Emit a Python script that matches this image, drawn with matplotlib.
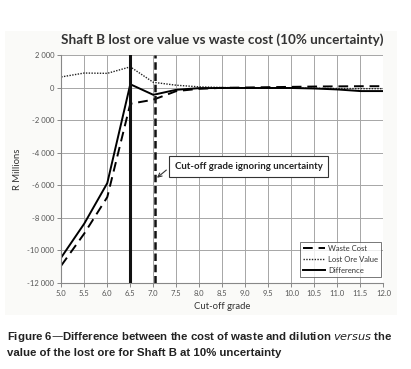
import matplotlib.pyplot as plt
from matplotlib.patches import Rectangle

# Data (R millions)
grades = [5.0, 5.5, 6.0, 6.5, 7.0, 7.5, 8.0, 8.5, 9.0, 9.5, 10.0, 10.5, 11.0, 11.5, 12.0]
waste_cost = [-10950, -8980, -6740, -1000, -750, -220, -80, -20, 0, 20, 40, 60, 70, 80, 80]
lost_ore_value = [650, 890, 870, 1270, 320, 140, 40, 0, -20, -30, -40, -50, -60, -70, -70]
difference = [-10450, -8370, -5880, 200, -450, -140, -40, -30, -30, -30, -30, -60, -120, -220, -220]

cutoff_with_uncertainty = 6.5
cutoff_ignoring_uncertainty = 7.03
y_ticks = [2000, 0, -2000, -4000, -6000, -8000, -10000, -12000]
x_ticks = [5.0, 5.5, 6.0, 6.5, 7.0, 7.5, 8.0, 8.5, 9.0, 9.5, 10.0, 10.5, 11.0, 11.5, 12.0]

TICK_COLOR = '#555555'
GRID_COLOR = '#a6a6a6'

fig = plt.figure(figsize=(4.11, 3.69), dpi=100)
# faint chart-area panel behind the axes
fig.patches.append(Rectangle((0.012, 0.145), 0.955, 0.77, transform=fig.transFigure,
                             facecolor='#fafaf8', edgecolor='none', zorder=-5))
ax = fig.add_axes([0.149, 0.234, 0.784, 0.617])
ax.set_zorder(2)
ax.set_facecolor('white')

ax.plot(grades, waste_cost, color='black', lw=1.4, linestyle=(0, (5, 3)), label='Waste Cost')
ax.plot(grades, lost_ore_value, color='#222222', lw=1.0, linestyle=(0, (1, 1)), label='Lost Ore Value')
ax.plot(grades, difference, color='black', lw=1.4, label='Difference')

ax.axvline(cutoff_with_uncertainty, color='#111111', lw=2.2, zorder=4)
ax.axvline(cutoff_ignoring_uncertainty, color='#111111', lw=1.8, linestyle=(0, (3, 1.5)), zorder=4)

ax.annotate('Cut-off grade ignoring uncertainty',
            xy=(cutoff_ignoring_uncertainty + 0.05, -5550), xytext=(9.07, -4850),
            ha='center', va='center', fontsize=6.9, fontweight='bold', family='Lato',
            color='#222222',
            bbox=dict(boxstyle='square,pad=0.6', fc='white', ec='#333333', lw=0.8),
            arrowprops=dict(arrowstyle='->', color='#333333', lw=0.8,
                            relpos=(0.0, 0.85), shrinkB=0), zorder=6)

ax.set_xlim(5.0, 12.0)
ax.set_ylim(-12000, 2000)
ax.set_xticks(x_ticks)
ax.set_xticklabels([f'{t:.1f}' for t in x_ticks])
ax.set_yticks(y_ticks)
ax.set_yticklabels([f'{t:,}'.replace(',', ' ') for t in y_ticks])
ax.grid(True, color=GRID_COLOR, lw=0.7)
ax.set_axisbelow(True)

for side in ['top', 'right']:
    ax.spines[side].set_visible(False)
for side in ['left', 'bottom']:
    ax.spines[side].set_color('#888888')
    ax.spines[side].set_linewidth(0.8)
ax.tick_params(axis='both', length=3, width=0.7, color='#888888', labelsize=5.5,
               labelcolor=TICK_COLOR, pad=2)
for lbl in ax.get_xticklabels() + ax.get_yticklabels():
    lbl.set_family('Lato')

ax.set_xlabel('Cut-off grade', fontsize=6.8, family='Lato', color='#333333', labelpad=4)
ax.set_ylabel('R Millions', fontsize=6.8, family='Lato', color='#333333', labelpad=4)
ax.set_title('Shaft B lost ore value vs waste cost (10% uncertainty)',
             fontsize=9.7, fontweight='bold', family='Lato', color='#333333', pad=8)

leg = ax.legend(loc='lower right', bbox_to_anchor=(0.997, 0.02),
                prop={'family': 'Lato', 'size': 5.5}, frameon=True, fancybox=False,
                edgecolor='#555555', handlelength=2.8, labelspacing=0.5,
                borderpad=0.4, handletextpad=0.4, borderaxespad=0.2)
leg.get_frame().set_linewidth(0.7)
for t in leg.get_texts():
    t.set_color('#333333')

fig.text(0.017, 0.078, 'Figure 6\u2014Difference between the cost of waste and dilution $\\bf{\\it{versus}}$ the',
         fontsize=8.2, fontweight='bold', family='Liberation Sans', color='#222222')
fig.text(0.017, 0.035, 'value of the lost ore for Shaft B at 10% uncertainty',
         fontsize=8.2, fontweight='bold', family='Liberation Sans', color='#222222')

fig.savefig('out.png', dpi=100)
